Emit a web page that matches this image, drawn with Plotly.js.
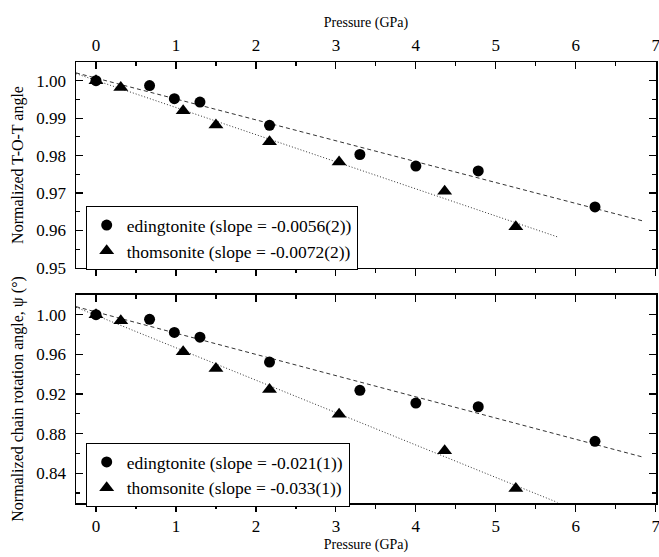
<!DOCTYPE html>
<html>
<head>
<meta charset="utf-8">
<script src="https://cdn.plot.ly/plotly-3.0.1.min.js"></script>
<style>html,body{margin:0;padding:0;background:#fff;}#chart{width:659px;height:557px;}</style>
</head>
<body>
<div id="chart"></div>
<script>
// Top panel: normalized T-O-T angle
const edP = [0, 0.67, 0.98, 1.30, 2.17, 3.30, 4.00, 4.78, 6.24];
const edTOT = [1.000, 0.9987, 0.9952, 0.9943, 0.9881, 0.9803, 0.9772, 0.9759, 0.9663];
const thP = [0, 0.31, 1.09, 1.50, 2.17, 3.04, 4.36, 5.25];
const thTOT = [1.000, 0.9982, 0.9920, 0.9882, 0.9837, 0.9783, 0.9705, 0.9610];
// Bottom panel: normalized chain rotation angle
const edPsi = [1.000, 0.9953, 0.9821, 0.9773, 0.9522, 0.9237, 0.9108, 0.9071, 0.8722];
const thPsi = [1.000, 0.9939, 0.9627, 0.9458, 0.9244, 0.8996, 0.8626, 0.8246];
// Fitted lines (end points)
const edFitP = [-0.25, 6.83];
const edFitTOT = [1.0021, 0.9626];
const thFitP = [-0.25, 5.77];
const thFitTOT = [1.0019, 0.9583];
const edFitPsi = [1.0081, 0.8565];
const thFitPsi = [1.0075, 0.8106];
const edNameTop = 'edingtonite (slope = -0.0056(2))';
const thNameTop = 'thomsonite (slope = -0.0072(2))';
const edNameBot = 'edingtonite (slope = -0.021(1))';
const thNameBot = 'thomsonite (slope = -0.033(1))';
const xTicks = [0, 1, 2, 3, 4, 5, 6, 7];

const FONT = '"Liberation Serif", "Times New Roman", serif';
const lineCol = '#333';

const traces = [
  {x: edFitP, y: edFitTOT, mode: 'lines', line: {color: lineCol, width: 1, dash: '4px,3px'}, showlegend: false, xaxis: 'x', yaxis: 'y'},
  {x: thFitP, y: thFitTOT, mode: 'lines', line: {color: lineCol, width: 1, dash: '1px,2px'}, showlegend: false, xaxis: 'x', yaxis: 'y'},
  {x: edP, y: edTOT, mode: 'markers', name: edNameTop, marker: {symbol: 'circle', size: 11, color: '#000'}, xaxis: 'x', yaxis: 'y', legend: 'legend'},
  {x: thP, y: thTOT, mode: 'markers', name: thNameTop, marker: {symbol: 'triangle-up', size: 13, color: '#000'}, xaxis: 'x', yaxis: 'y', legend: 'legend'},
  {x: edFitP, y: edFitPsi, mode: 'lines', line: {color: lineCol, width: 1, dash: '4px,3px'}, showlegend: false, xaxis: 'x2', yaxis: 'y2'},
  {x: thFitP, y: thFitPsi, mode: 'lines', line: {color: lineCol, width: 1, dash: '1px,2px'}, showlegend: false, xaxis: 'x2', yaxis: 'y2'},
  {x: edP, y: edPsi, mode: 'markers', name: edNameBot, marker: {symbol: 'circle', size: 11, color: '#000'}, xaxis: 'x2', yaxis: 'y2', legend: 'legend2'},
  {x: thP, y: thPsi, mode: 'markers', name: thNameBot, marker: {symbol: 'triangle-up', size: 13, color: '#000'}, xaxis: 'x2', yaxis: 'y2', legend: 'legend2'},
  {x: [null], y: [null], mode: 'markers', showlegend: false, hoverinfo: 'skip', xaxis: 'x3', yaxis: 'y3'},
  {x: [null], y: [null], mode: 'markers', showlegend: false, hoverinfo: 'skip', xaxis: 'x4', yaxis: 'y4'}
];

const tickFont = {family: FONT, size: 17, color: '#000'};
const xRange = [-0.25, 7.003];
function xBase(extra) {
  return Object.assign({
    range: xRange, tickmode: 'array', tickvals: xTicks, ticktext: xTicks.map(String),
    showgrid: false, zeroline: false, ticklabeloverflow: 'allow',
    showline: true, linecolor: '#000', linewidth: 1.5, tickcolor: '#000', tickwidth: 1.2, ticklen: 7,
    tickfont: tickFont, fixedrange: true
  }, extra);
}
function yBase(extra) {
  return Object.assign({
    showgrid: false, zeroline: false, showline: true, linecolor: '#000', linewidth: 1.5,
    tickcolor: '#000', tickwidth: 1.2, ticklen: 7, ticks: 'inside', tickfont: tickFont, tickformat: '.2f', fixedrange: true
  }, extra);
}

const topDom = [0.533, 1];
const botDom = [0, 0.472];
const minorX = (dir) => ({ticks: dir, ticklen: 4, dtick: 0.5, tick0: 0, tickmode: 'linear', tickcolor: '#000', tickwidth: 1.2});

const layout = {
  width: 659, height: 557,
  margin: {l: 76, r: 3, t: 62, b: 54},
  paper_bgcolor: '#fff', plot_bgcolor: '#fff',
  font: {family: FONT, color: '#000'},
  xaxis: xBase({anchor: 'y', side: 'bottom', ticks: 'outside', showticklabels: false, minor: minorX('outside')}),
  xaxis3: xBase({anchor: 'y', overlaying: 'x', side: 'top', ticks: 'inside', showticklabels: true, ticklabelstandoff: 3,
    minor: minorX('inside'),
    title: {text: 'Pressure (GPa)', font: {family: FONT, size: 14, color: '#000'}, standoff: 5}}),
  xaxis2: xBase({anchor: 'y2', side: 'bottom', ticks: 'outside', showticklabels: true, minor: minorX('outside'),
    title: {text: 'Pressure (GPa)', font: {family: FONT, size: 14, color: '#000'}, standoff: 4}}),
  xaxis4: xBase({anchor: 'y2', overlaying: 'x2', side: 'top', ticks: 'inside', showticklabels: false, minor: minorX('inside')}),
  yaxis: yBase({domain: topDom, anchor: 'x', side: 'left', range: [0.95, 1.005], dtick: 0.01, tick0: 0,
    ticklabelstandoff: 5,
    minor: {ticks: 'inside', ticklen: 4, dtick: 0.005, tickcolor: '#000', tickwidth: 1.2},
    title: {text: 'Normalized T-O-T angle', font: {family: FONT, size: 16, color: '#000'}, standoff: 8}}),
  yaxis3: yBase({domain: topDom, anchor: 'x3', overlaying: 'y', side: 'right', range: [0.95, 1.005], dtick: 0.01, tick0: 0,
    showticklabels: false,
    minor: {ticks: 'inside', ticklen: 4, dtick: 0.005, tickcolor: '#000', tickwidth: 1.2}}),
  yaxis2: yBase({domain: botDom, anchor: 'x2', side: 'left', range: [0.81, 1.02], dtick: 0.04, tick0: 0,
    ticklabelstandoff: 5,
    minor: {ticks: 'inside', ticklen: 4, dtick: 0.02, tickcolor: '#000', tickwidth: 1.2},
    title: {text: 'Normalized chain rotation angle, ψ (°)', font: {family: FONT, size: 16, color: '#000'}, standoff: 8}}),
  yaxis4: yBase({domain: botDom, anchor: 'x4', overlaying: 'y2', side: 'right', range: [0.81, 1.02], dtick: 0.04, tick0: 0,
    showticklabels: false,
    minor: {ticks: 'inside', ticklen: 4, dtick: 0.02, tickcolor: '#000', tickwidth: 1.2}}),
  legend: {x: 0.0167, y: 0.673, xanchor: 'left', yanchor: 'top', bgcolor: '#fff', bordercolor: '#000', borderwidth: 1,
    font: {family: FONT, size: 17.5, color: '#000'}, tracegroupgap: 0, itemwidth: 30},
  legend2: {x: 0.0167, y: 0.136, xanchor: 'left', yanchor: 'top', bgcolor: '#fff', bordercolor: '#000', borderwidth: 1,
    font: {family: FONT, size: 17.5, color: '#000'}, tracegroupgap: 0, itemwidth: 30},
  showlegend: true
};

Plotly.newPlot('chart', traces, layout, {displayModeBar: false, staticPlot: true});
</script>
</body>
</html>
